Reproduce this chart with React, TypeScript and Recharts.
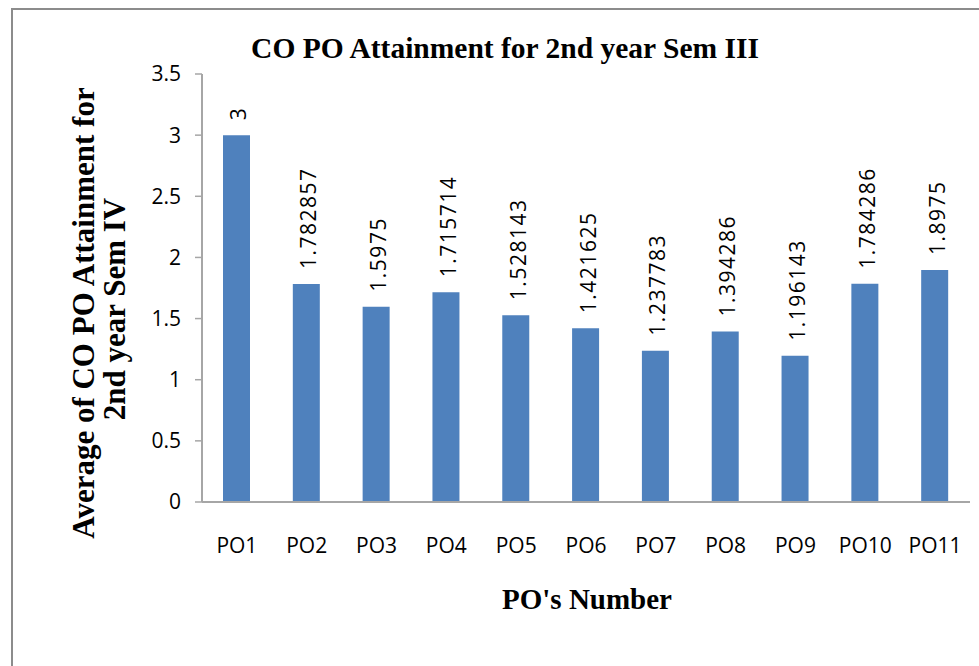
import React from 'react';
import { BarChart, Bar, XAxis, YAxis, LabelList, Label } from 'recharts';

const categories = ['PO1', 'PO2', 'PO3', 'PO4', 'PO5', 'PO6', 'PO7', 'PO8', 'PO9', 'PO10', 'PO11'];
const attainment = [3, 1.782857, 1.5975, 1.715714, 1.528143, 1.421625, 1.237783, 1.394286, 1.196143, 1.784286, 1.8975];
const yTicks = [0, 0.5, 1, 1.5, 2, 2.5, 3, 3.5];

const chartData = categories.map((po, i) => ({ po, value: attainment[i] }));

const serif = '"Liberation Serif", "Times New Roman", serif';
const sans = '"Open Sans", "Noto Sans", sans-serif';
const axisGray = '#a6a6a6';

const ValueLabel = (props: any) => {
  const { x, y, width, value } = props;
  const cx = x + width / 2 + 2;
  const ty = y - 15;
  return (
    <text
      x={cx}
      y={ty}
      transform={`rotate(-90, ${cx}, ${ty})`}
      textAnchor="start"
      dominantBaseline="central"
      fontFamily={sans}
      fontSize={21}
      letterSpacing={1.5}
      fill="#000"
    >
      {value}
    </text>
  );
};

const YTitle = () => (
  <g fontFamily={serif} fontWeight="bold" fontSize={31} fill="#000">
    <text x={94} y={313} transform="rotate(-90, 94, 313)" textAnchor="middle">
      Average of CO PO Attainment for
    </text>
    <text x={125} y={309} transform="rotate(-90, 125, 309)" textAnchor="middle">
      2nd year Sem IV
    </text>
  </g>
);

const XTitle = () => (
  <text x={587} y={609} textAnchor="middle" fontFamily={serif} fontWeight="bold" fontSize={29} fill="#000">
    PO's Number
  </text>
);

export default function App() {
  return (
    <div style={{ position: 'absolute', left: 0, top: 0, width: 979, height: 666, overflow: 'hidden', background: '#fff' }}>
      <div
        style={{
          position: 'absolute',
          left: 11,
          top: 8,
          width: 2000,
          height: 2000,
          borderLeft: '2px solid #8c8c8c',
          borderTop: '2px solid #8c8c8c',
        }}
      />
      <div
        style={{
          position: 'absolute',
          left: 0,
          top: 31,
          width: 1010,
          textAlign: 'center',
          fontFamily: serif,
          fontWeight: 'bold',
          fontSize: 29.5,
          lineHeight: '34px',
          color: '#000',
        }}
      >
        CO PO Attainment for 2nd year Sem III
      </div>
      <div style={{ position: 'absolute', left: 0, top: 0 }}>
        <BarChart
          width={979}
          height={666}
          data={chartData}
          margin={{ top: 74, right: 9, bottom: 124, left: 140 }}
        >
          <XAxis
            dataKey="po"
            height={40}
            tickLine={false}
            axisLine={{ stroke: axisGray, strokeWidth: 2 }}
            tickMargin={30}
            tick={{ fill: '#000', fontSize: 21, fontFamily: sans }}
            interval={0}
          >
            <Label content={<XTitle />} />
          </XAxis>
          <YAxis
            width={62}
            domain={[0, 3.5]}
            ticks={yTicks}
            tickSize={7}
            tickMargin={14}
            tickLine={{ stroke: axisGray, strokeWidth: 1.5 }}
            axisLine={{ stroke: axisGray, strokeWidth: 2 }}
            tick={{ fill: '#000', fontSize: 21, fontFamily: sans }}
          >
            <Label content={<YTitle />} />
          </YAxis>
          <Bar dataKey="value" fill="#4f81bd" barSize={27} isAnimationActive={false}>
            <LabelList dataKey="value" content={<ValueLabel />} />
          </Bar>
        </BarChart>
      </div>
    </div>
  );
}
